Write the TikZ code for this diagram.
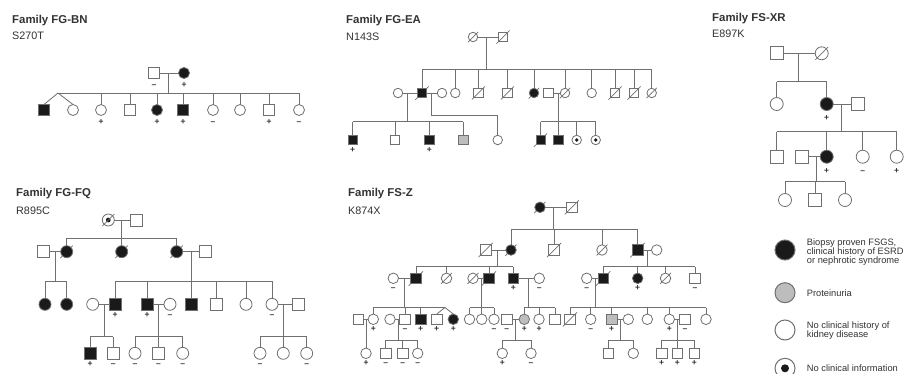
\documentclass[tikz,border=0pt]{standalone}
\usepackage{fontspec}
\setmainfont{Liberation Sans}
\usetikzlibrary{calc}
\definecolor{lc}{HTML}{707070}
\definecolor{af}{HTML}{1A1A1A}
\definecolor{pg}{HTML}{BDBDBD}
\definecolor{tc}{HTML}{333333}
\newcommand\sibs[2]{\foreach \c in {#2}{\draw[ln] (\c.north) -- (\c.north |- #1);}}
\tikzset{
 ln/.style={draw=lc, line width=0.8pt},
 sym/.style={draw=lc, line width=0.8pt, fill=white, inner sep=0pt, outer sep=0pt},
 ma/.style={sym, rectangle},
 fe/.style={sym, circle},
 aff/.style={fill=af},
 pr/.style={fill=pg},
 dec/.style={append after command={(\tikzlastnode.south west) edge[slashln] (\tikzlastnode.north east)}},
 decf/.style={append after command={(\tikzlastnode.south west) edge[slashst] ($(\tikzlastnode.south west)!-3pt!(\tikzlastnode.north east)$) (\tikzlastnode.north east) edge[slashst] ($(\tikzlastnode.north east)!-2.5pt!(\tikzlastnode.south west)$)}},
 slashln/.style={draw=lc, line width=0.7pt, shorten <=-2.5pt, shorten >=-2.5pt},
 slashst/.style={draw=lc, line width=0.7pt},
 dotc/.style={path picture={\fill[af] (path picture bounding box.center) circle[radius=#1];}},
 dotc/.default=2pt,
 sgn/.style={font=\fontsize{8.5}{8.5}\selectfont\bfseries, text=tc, inner sep=0.3pt, text height=5pt, text depth=0pt},
 pl/.style={label={[sgn]below:+}},
 mi/.style={label={[sgn]below:\textendash}},
 ttl/.style={anchor=west, inner sep=0pt, text=tc, font=\fontsize{11.4}{13}\selectfont\bfseries},
 sub/.style={anchor=west, inner sep=0pt, text=tc, font=\fontsize{10.8}{12}\selectfont},
 lgt/.style={anchor=west, inner sep=0pt, text=tc, align=left, font=\fontsize{9.3}{8.9}\selectfont},
}
\begin{document}
\begin{tikzpicture}[x=1pt,y=-1pt]
\useasboundingbox (0,0) rectangle (906,373);
\fill[white] (0,0) rectangle (906,373);

% ---------- titles ----------
\node[ttl] (tbn) at (12,21) {Family FG-BN};
\node[sub] (sbn) at (12,36) {S270T};
\node[ttl] (tea) at (346,21) {Family FG-EA};
\node[sub] (sea) at (346,37) {N143S};
\node[ttl] (txr) at (712,19) {Family FS-XR};
\node[sub] (sxr) at (712,34) {E897K};
\node[ttl] (tfq) at (16,194) {Family FG-FQ};
\node[sub] (sfq) at (16,211) {R895C};
\node[ttl] (tz) at (348,194) {Family FS-Z};
\node[sub] (sz) at (348,211) {K874X};

% ---------- FG-BN ----------
\begin{scope}[sym/.append style={minimum size=11pt}, label distance=3.5pt]
\node[ma,mi] (bn1) at (154,73) {};
\node[fe,aff,pl] (bn2) at (184,73) {};
\node[ma,aff] (bn3) at (44,110) {};
\node[fe] (bn4) at (73,110) {};
\node[fe,pl] (bn5) at (101,110) {};
\node[ma] (bn6) at (130,110) {};
\node[fe,aff,pl] (bn7) at (157,110) {};
\node[ma,aff,pl] (bn8) at (183,110) {};
\node[fe,mi] (bn9) at (213,110) {};
\node[fe] (bn10) at (240,110) {};
\node[ma,pl] (bn11) at (269,110) {};
\node[fe,mi] (bn12) at (299,110) {};
\coordinate (bns) at (168,93);
\coordinate (bntw) at (58,93);
\draw[ln] (bn1) -- (bn2);
\draw[ln] (bns |- bn1) -- (bns);
\draw[ln] (bntw) -- (bn12.north |- bns);
\sibs{bns}{bn5,bn6,bn7,bn8,bn9,bn10,bn11,bn12}
\draw[ln] (bntw) -- (bn3.north);
\draw[ln] (bntw) -- (bn4.north);
\end{scope}

% ---------- FG-EA ----------
\begin{scope}[sym/.append style={minimum size=9.5pt}, label distance=2pt]
\node[fe,dec] (ea1) at (473,37) {};
\node[ma,dec] (ea2) at (503,37) {};
\node[fe] (ea3) at (398,93) {};
\node[ma,aff,decf] (ea4) at (422,93) {};
\node[fe] (ea5) at (442,93) {};
\node[fe] (ea6) at (455.3,93) {};
\node[ma,dec] (ea7) at (478.3,93) {};
\node[ma,dec] (ea8) at (507.3,93) {};
\node[fe,aff,decf] (ea9) at (534,93) {};
\node[ma] (ea10) at (548.3,93) {};
\node[fe,dec] (ea11) at (565,93) {};
\node[fe] (ea12) at (591.7,93) {};
\node[ma,dec] (ea13) at (615,93) {};
\node[ma,dec] (ea14) at (634,93) {};
\node[fe,dec] (ea15) at (651.7,93) {};
\node[ma,aff,pl] (ea16) at (352.7,140) {};
\node[ma] (ea17) at (395,140) {};
\node[ma,aff,pl] (ea18) at (429.3,140) {};
\node[ma,pr] (ea19) at (463.3,140) {};
\node[fe] (ea20) at (497.7,140) {};
\node[ma,aff,decf] (ea21) at (540.7,140) {};
\node[ma,aff] (ea22) at (558.3,140) {};
\node[fe,dotc=1.9pt] (ea23) at (576.7,140) {};
\node[fe,dotc=1.9pt] (ea24) at (595.7,140) {};
\coordinate (eas0) at (486,69);
\coordinate (eas1) at (407.3,121.7);
\coordinate (eak) at (431,115);
\coordinate (eas2) at (558.3,121.7);
\draw[ln] (ea1) -- (ea2);
\draw[ln] (eas0 |- ea1) -- (eas0);
\draw[ln] (ea4.north |- eas0) -- (ea15.north |- eas0);
\sibs{eas0}{ea4,ea6,ea7,ea8,ea9,ea11,ea12,ea13,ea14,ea15}
\draw[ln] (ea3) -- (ea4);
\draw[ln] (ea4) -- (ea5);
\draw[ln] (eas1 |- ea3) -- (eas1);
\draw[ln] (ea16.north |- eas1) -- (ea19.north |- eas1);
\sibs{eas1}{ea16,ea17,ea18,ea19}
\draw[ln] (eak |- ea4) -- (eak) -| (ea20.north);
\draw[ln] (ea10) -- (ea11);
\draw[ln] (eas2 |- ea10) -- (eas2);
\draw[ln] (ea21.north |- eas2) -- (ea24.north |- eas2);
\sibs{eas2}{ea21,ea22,ea23,ea24}
\end{scope}

% ---------- FS-XR ----------
\begin{scope}[sym/.append style={minimum size=13pt}, label distance=4.5pt]
\node[ma] (xr1) at (776.7,53.3) {};
\node[fe,dec] (xr2) at (821.7,53.3) {};
\node[fe] (xr3) at (776.7,104) {};
\node[fe,aff,pl] (xr4) at (826.7,104) {};
\node[ma] (xr5) at (858.3,104) {};
\node[ma] (xr6) at (776.7,156.7) {};
\node[ma] (xr7) at (801.7,156.7) {};
\node[fe,aff,pl] (xr8) at (826.7,156.7) {};
\node[fe,mi] (xr9) at (862.7,156.7) {};
\node[fe,pl] (xr10) at (896.7,156.7) {};
\node[fe] (xr11) at (785,200) {};
\node[ma] (xr12) at (815,200) {};
\node[fe] (xr13) at (845,200) {};
\coordinate (xrs1) at (798.3,81.7);
\coordinate (xrs2) at (841.7,131.7);
\coordinate (xrs3) at (816.7,181.7);
\draw[ln] (xr1) -- (xr2);
\draw[ln] (xrs1 |- xr1) -- (xrs1);
\draw[ln] (xr3.north |- xrs1) -- (xr4.north |- xrs1);
\sibs{xrs1}{xr3,xr4}
\draw[ln] (xr4) -- (xr5);
\draw[ln] (xrs2 |- xr4) -- (xrs2);
\draw[ln] (xr6.north |- xrs2) -- (xr10.north |- xrs2);
\sibs{xrs2}{xr6,xr8,xr9,xr10}
\draw[ln] (xr7) -- (xr8);
\draw[ln] (xrs3 |- xr7) -- (xrs3);
\draw[ln] (xr11.north |- xrs3) -- (xr13.north |- xrs3);
\sibs{xrs3}{xr11,xr12,xr13}
\end{scope}

% ---------- FG-FQ ----------
\begin{scope}[sym/.append style={minimum size=12pt}, label distance=2pt]
\node[fe,dotc=2.4pt,dec] (fq1) at (108.3,220) {};
\node[ma] (fq2) at (136.7,220) {};
\node[ma] (fq3) at (43.3,251.7) {};
\node[fe,aff,decf] (fq4) at (66.7,251.7) {};
\node[fe,aff,decf] (fq5) at (121.7,251.7) {};
\node[fe,aff,decf] (fq6) at (176.7,251.7) {};
\node[ma] (fq7) at (205.7,251.7) {};
\node[fe,aff] (fq8) at (45,304.3) {};
\node[fe,aff] (fq9) at (66.7,304.3) {};
\node[fe] (fq10) at (92.7,304.3) {};
\node[ma,aff,pl] (fq11) at (115,304.3) {};
\node[ma,aff,pl] (fq12) at (147,304.3) {};
\node[fe,mi] (fq13) at (170,304.3) {};
\node[ma,aff] (fq14) at (191,304.3) {};
\node[ma] (fq15) at (216.7,304.3) {};
\node[fe] (fq16) at (246,304.3) {};
\node[fe,mi] (fq17) at (272,304.3) {};
\node[ma] (fq18) at (298.3,304.3) {};
\node[ma,aff,pl] (fq19) at (90,353.3) {};
\node[ma,mi] (fq20) at (113.3,353.3) {};
\node[fe,mi] (fq21) at (135,353.3) {};
\node[ma,mi] (fq22) at (158.5,353.3) {};
\node[fe,mi] (fq23) at (182.7,353.3) {};
\node[fe,mi] (fq24) at (260,353.3) {};
\node[fe] (fq25) at (283.3,353.3) {};
\node[fe,mi] (fq26) at (306.7,353.3) {};
\coordinate (fqs1) at (121.7,238.3);
\coordinate (fqs2) at (55,281.7);
\coordinate (fqs3) at (191,281);
\coordinate (fqs4) at (104,336.7);
\coordinate (fqs5) at (158.5,336.7);
\coordinate (fqs6) at (283.3,336.2);
\draw[ln] (fq1) -- (fq2);
\draw[ln] (fqs1 |- fq1) -- (fqs1);
\draw[ln] (fq4.north |- fqs1) -- (fq6.north |- fqs1);
\sibs{fqs1}{fq4,fq5,fq6}
\draw[ln] (fq3) -- (fq4);
\draw[ln] (fqs2 |- fq3) -- (fqs2);
\draw[ln] (fq8.north |- fqs2) -- (fq9.north |- fqs2);
\sibs{fqs2}{fq8,fq9}
\draw[ln] (fq6) -- (fq7);
\draw[ln] (fqs3 |- fq6) -- (fqs3);
\draw[ln] (fq11.north |- fqs3) -- (fq17.north |- fqs3);
\sibs{fqs3}{fq11,fq12,fq14,fq15,fq16,fq17}
\draw[ln] (fq10) -- (fq11);
\draw[ln] (fqs4 |- fq10) -- (fqs4);
\draw[ln] (fq19.north |- fqs4) -- (fq20.north |- fqs4);
\sibs{fqs4}{fq19,fq20}
\draw[ln] (fq12) -- (fq13);
\draw[ln] (fqs5 |- fq12) -- (fqs5);
\draw[ln] (fq21.north |- fqs5) -- (fq23.north |- fqs5);
\sibs{fqs5}{fq21,fq22,fq23}
\draw[ln] (fq17) -- (fq18);
\draw[ln] (fqs6 |- fq17) -- (fqs6);
\draw[ln] (fq24.north |- fqs6) -- (fq26.north |- fqs6);
\sibs{fqs6}{fq24,fq25,fq26}
\end{scope}

% ---------- FS-Z ----------
\begin{scope}[sym/.append style={minimum size=10.5pt}, label distance=1.2pt]
\node[fe,aff,decf] (z1) at (540,207.3) {};
\node[ma,dec] (z2) at (571.7,207.3) {};
\node[ma,dec] (z3) at (485.7,250) {};
\node[fe,aff,decf] (z4) at (511,250) {};
\node[ma,dec] (z5) at (554,250) {};
\node[fe,dec] (z6) at (602,250) {};
\node[ma,aff,decf] (z7) at (637.7,250) {};
\node[fe] (z8) at (656.7,250) {};
\node[fe,mi] (z9) at (393.3,278.3) {};
\node[ma,aff,decf] (z10) at (416,278.3) {};
\node[fe,dec] (z11) at (446.5,278.3) {};
\node[fe,dec] (z12) at (473,278.3) {};
\node[ma,aff,decf] (z13) at (489,278.3) {};
\node[ma,aff,pl] (z14) at (513.3,278.3) {};
\node[fe,mi] (z15) at (539.3,278.3) {};
\node[fe,mi] (z16) at (586.7,278.3) {};
\node[ma,aff,decf] (z17) at (603.3,278.3) {};
\node[fe,aff,pl] (z18) at (637.7,278.3) {};
\node[fe,dec] (z19) at (665.5,278.3) {};
\node[ma,mi] (z20) at (695,278.3) {};
\node[ma] (z21) at (358.3,319.3) {};
\node[fe,pl] (z22) at (373.3,319.3) {};
\node[fe] (z23) at (390,319.3) {};
\node[ma,mi] (z24) at (405,319.3) {};
\node[ma,aff,pl] (z25) at (420.7,319.3) {};
\node[ma,pl] (z26) at (436.7,319.3) {};
\node[fe,aff,pl] (z27) at (453.3,319.3) {};
\node[fe] (z28) at (469.5,319.3) {};
\node[fe] (z29) at (481.7,319.3) {};
\node[fe,mi] (z30) at (494,319.3) {};
\node[ma,mi] (z31) at (506.7,319.3) {};
\node[fe,pr,pl] (z32) at (524.3,319.3) {};
\node[fe,pl] (z33) at (539,319.3) {};
\node[ma] (z34) at (555,319.3) {};
\node[ma,dec] (z35) at (570,319.3) {};
\node[fe,mi] (z36) at (590.7,319.3) {};
\node[ma,pr,pl] (z37) at (611.7,319.3) {};
\node[fe] (z38) at (628.3,319.3) {};
\node[fe] (z39) at (647.3,319.3) {};
\node[fe,pl] (z40) at (669.3,319.3) {};
\node[ma,mi] (z41) at (685,319.3) {};
\node[fe] (z42) at (706,319.3) {};
\node[fe,pl] (z43) at (366,353.3) {};
\node[ma,mi] (z44) at (385.7,353.3) {};
\node[ma,mi] (z45) at (402.7,353.3) {};
\node[fe,mi] (z46) at (417.7,353.3) {};
\node[fe,pl] (z47) at (502.3,353.3) {};
\node[fe,mi] (z48) at (531,353.3) {};
\node[ma] (z49) at (608.3,353.3) {};
\node[fe] (z50) at (633.3,353.3) {};
\node[ma,pl] (z51) at (661.7,353.3) {};
\node[ma,pl] (z52) at (677.3,353.3) {};
\node[ma,pl] (z53) at (694.3,353.3) {};
\coordinate (zs1) at (553.3,229.3);
\coordinate (zs2) at (497.3,266.5);
\coordinate (zs3) at (647,266.5);
\coordinate (zs4) at (404.5,307.5);
\coordinate (ztw) at (445,307.5);
\coordinate (zs5) at (481.5,307.5);
\coordinate (zs6) at (528.3,307.5);
\coordinate (zs7) at (595,307.5);
\coordinate (zs8) at (398,340);
\coordinate (zs9) at (515.5,340);
\coordinate (zs10) at (620.5,340);
\coordinate (zs11) at (677.3,340);
\draw[ln] (z1) -- (z2);
\draw[ln] (zs1 |- z1) -- (zs1);
\draw[ln] (z4.north |- zs1) -- (z7.north |- zs1);
\sibs{zs1}{z4,z5,z6,z7}
\draw[ln] (z3) -- (z4);
\draw[ln] (zs2 |- z3) -- (zs2);
\draw[ln] (z10.north |- zs2) -- (z14.north |- zs2);
\sibs{zs2}{z10,z11,z13,z14}
\draw[ln] (z7) -- (z8);
\draw[ln] (zs3 |- z7) -- (zs3);
\draw[ln] (z17.north |- zs3) -- (z20.north |- zs3);
\sibs{zs3}{z17,z18,z19,z20}
\draw[ln] (z9) -- (z10);
\draw[ln] (zs4 |- z9) -- (zs4);
\draw[ln] (z22.north |- zs4) -- (ztw);
\sibs{zs4}{z22,z24,z25}
\draw[ln] (ztw) -- (z26.north);
\draw[ln] (ztw) -- (z27.north);
\draw[ln] (z12) -- (z13);
\draw[ln] (zs5 |- z12) -- (zs5);
\draw[ln] (z28.north |- zs5) -- (z30.north |- zs5);
\sibs{zs5}{z28,z29,z30}
\draw[ln] (z14) -- (z15);
\draw[ln] (zs6 |- z14) -- (zs6);
\draw[ln] (z32.north |- zs6) -- (z34.north |- zs6);
\sibs{zs6}{z32,z33,z34}
\draw[ln] (z16) -- (z17);
\draw[ln] (zs7 |- z16) -- (zs7);
\draw[ln] (z35.north |- zs7) -- (z42.north |- zs7);
\sibs{zs7}{z35,z36,z37,z39,z40,z42}
\draw[ln] (z21) -- (z22);
\draw[ln] (z43.north |- z21) -- (z43.north);
\draw[ln] (z23) -- (z24);
\draw[ln] (zs8 |- z23) -- (zs8);
\draw[ln] (z44.north |- zs8) -- (z46.north |- zs8);
\sibs{zs8}{z44,z45,z46}
\draw[ln] (z31) -- (z32);
\draw[ln] (zs9 |- z31) -- (zs9);
\draw[ln] (z47.north |- zs9) -- (z48.north |- zs9);
\sibs{zs9}{z47,z48}
\draw[ln] (z37) -- (z38);
\draw[ln] (zs10 |- z37) -- (zs10);
\draw[ln] (z49.north |- zs10) -- (z50.north |- zs10);
\sibs{zs10}{z49,z50}
\draw[ln] (z40) -- (z41);
\draw[ln] (zs11 |- z40) -- (zs11);
\draw[ln] (z51.north |- zs11) -- (z53.north |- zs11);
\sibs{zs11}{z51,z52,z53}
\end{scope}

% ---------- legend ----------
\begin{scope}[sym/.append style={minimum size=20pt, line width=1pt}]
\node[fe,aff] (lg1) at (785,250) {};
\node[fe,pr] (lg2) at (785,292.7) {};
\node[fe] (lg3) at (785,330) {};
\node[fe,dotc=4pt] (lg4) at (785,368.3) {};
\end{scope}
\node[lgt] (lt1) at (806.7,252.3) {Biopsy proven FSGS,\\clinical history of ESRD\\or nephrotic syndrome};
\node[lgt] (lt2) at (806.7,292.7) {Proteinuria};
\node[lgt] (lt3) at (806.7,330.5) {No clinical history of\\kidney disease};
\node[lgt] (lt4) at (806.7,368.3) {No clinical information};
\end{tikzpicture}
\end{document}
